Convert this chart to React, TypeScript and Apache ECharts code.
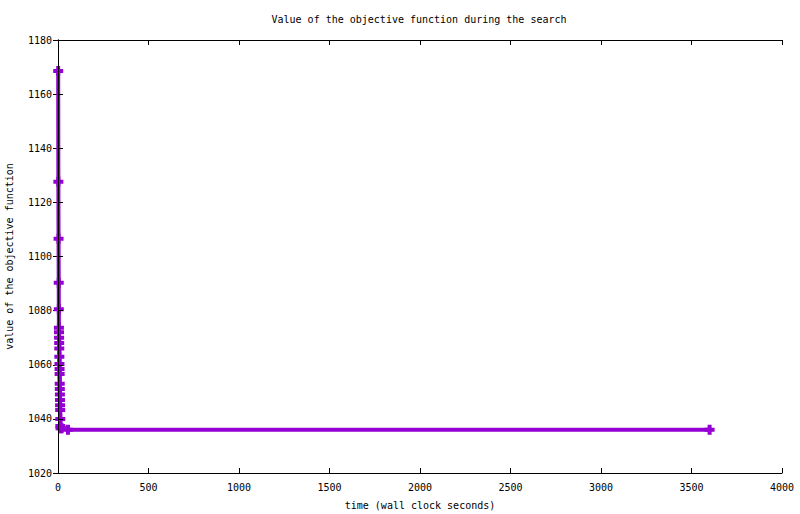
import React, { useEffect, useRef } from "react";
import * as echarts from "echarts";

const times = [1, 2, 3, 4, 4.5, 5, 5.5, 6, 6.5, 7, 7.5, 8, 8.5, 9, 9.5, 10, 10.5, 11, 11.5, 12, 12.5, 13, 14, 20, 55, 3600];
const values = [1168.5, 1127.6, 1106.6, 1090.3, 1080.5, 1073.7, 1072, 1070, 1068, 1066, 1063, 1060.3, 1058.4, 1056.6, 1053, 1051, 1049, 1047, 1045, 1043.3, 1040, 1037.4, 1036.5, 1036.5, 1036, 1036];

const titleText = "Value of the objective function during the search";
const xName = "time (wall clock seconds)";
const yName = "value of the objective function";

const FONT = "DejaVu Sans Mono";
const PURPLE = "#9400d3";

export default function App() {
  const ref = useRef<HTMLDivElement>(null);
  useEffect(() => {
    if (!ref.current) return;
    const chart = echarts.init(ref.current, null, { renderer: "svg" });
    const data = times.map((t, i) => [t, values[i]]);
    const axisCommon = {
      axisLine: { show: true, lineStyle: { color: "#000", width: 1 } },
      axisTick: { show: true, inside: true, length: 5, lineStyle: { color: "#000" } },
      splitLine: { show: false },
    };
    const plain = (v: number) => String(v);
    chart.setOption({
      animation: false,
      backgroundColor: "#fff",
      textStyle: { fontFamily: FONT },
      title: {
        text: titleText,
        left: 414,
        top: 9,
        textAlign: "center",
        textStyle: { fontFamily: FONT, fontSize: 10, fontWeight: "normal", color: "#000" },
      },
      grid: { left: 58, right: 18, top: 40, bottom: 41, show: false, containLabel: false, outerBoundsMode: "none" },
      xAxis: [
        {
          type: "value",
          min: 0,
          max: 4000,
          interval: 500,
          position: "bottom",
          ...axisCommon,
          axisLabel: { color: "#000", fontFamily: FONT, fontSize: 10, margin: 9, formatter: plain },
          name: xName,
          nameLocation: "middle",
          nameGap: 27,
          nameTextStyle: { color: "#000", fontFamily: FONT, fontSize: 10 },
        },
        {
          type: "value",
          min: 0,
          max: 4000,
          interval: 500,
          position: "top",
          ...axisCommon,
          axisLabel: { show: false },
        },
      ],
      yAxis: [
        {
          type: "value",
          min: 1020,
          max: 1180,
          interval: 20,
          position: "left",
          z: 5,
          ...axisCommon,
          axisLabel: { color: "#000", fontFamily: FONT, fontSize: 10, margin: 6, formatter: plain },
          name: yName,
          nameLocation: "middle",
          nameGap: 44,
          nameTextStyle: { color: "#000", fontFamily: FONT, fontSize: 10 },
        },
        {
          type: "value",
          min: 1020,
          max: 1180,
          interval: 20,
          position: "right",
          ...axisCommon,
          axisLabel: { show: false },
        },
      ],
      series: [
        {
          type: "line",
          data,
          xAxisIndex: 0,
          yAxisIndex: 0,
          lineStyle: { color: PURPLE, width: 4 },
          itemStyle: { color: PURPLE },
          symbol: "path://M3,0h4v3h3v4h-3v3h-4v-3h-3v-4h3z",
          symbolSize: 10,
          showSymbol: true,
          showAllSymbol: true,
          z: 1,
        },
      ],
    });
    return () => chart.dispose();
  }, []);
  return <div ref={ref} style={{ width: 800, height: 514, position: "absolute", left: 0, top: 0 }} />;
}
